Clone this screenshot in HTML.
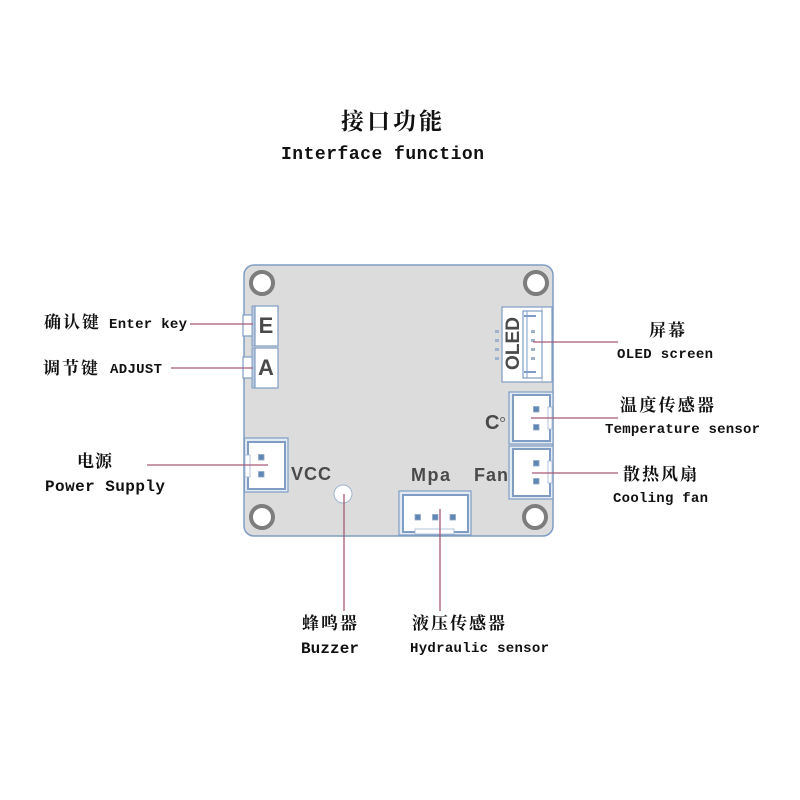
<!DOCTYPE html>
<html><head><meta charset="utf-8"><style>
html,body{margin:0;padding:0;background:#fff}
svg{display:block}
.m{font-family:"Liberation Mono",monospace;font-weight:bold;fill:#111}
.c{font-family:"Liberation Serif","Noto Serif CJK SC",serif;font-weight:bold;fill:#111}
.b{font-family:"Liberation Sans",sans-serif;font-weight:bold;fill:#4a4a4a}
.l{stroke:#a65a74;stroke-width:1.3;fill:none}
.p{fill:#fff;stroke:#7f9dc4;stroke-width:1.2}
.pin{fill:#5f86b5;stroke:#8fa9c9;stroke-width:.8}
.h{fill:#fff;stroke:#7d7d7d;stroke-width:4}
</style></head><body>
<svg width="800" height="800" viewBox="0 0 800 800" xmlns="http://www.w3.org/2000/svg">
<rect width="800" height="800" fill="#fff"/>
<rect x="244" y="265" width="309" height="271" rx="10" fill="#dcdcdc" stroke="#7f9dc4" stroke-width="1.5"/>
<circle class="h" cx="262" cy="283" r="11"/><circle class="h" cx="536" cy="283" r="11"/><circle class="h" cx="262" cy="517" r="11"/><circle class="h" cx="535" cy="517" r="11"/>

<!-- E / A buttons -->
<rect class="p" x="243" y="315" width="10" height="21"/><rect class="p" x="243" y="357" width="10" height="21"/>
<rect x="252" y="306" width="4" height="40" fill="#b9c9de" stroke="#7f9dc4"/><rect x="252" y="348" width="4" height="40" fill="#b9c9de" stroke="#7f9dc4"/>
<rect class="p" x="255" y="306" width="23" height="40"/><rect class="p" x="255" y="348" width="23" height="40"/>
<text class="b" x="266" y="333" font-size="22" text-anchor="middle">E</text>
<text class="b" x="266" y="375" font-size="22" text-anchor="middle">A</text>

<!-- OLED -->
<rect class="p" x="502" y="307" width="50" height="75"/>
<line x1="542" y1="307" x2="542" y2="382" stroke="#a9bcd5"/>
<rect x="523" y="311" width="19" height="67" fill="#fff" stroke="#7f9dc4" stroke-width="1.2"/>
<line x1="527" y1="311" x2="527" y2="378" stroke="#7f9dc4"/>
<path d="M524 316H536M524 372H536" stroke="#7f9dc4" stroke-width="2"/>
<g fill="#9fb2ca">
<rect x="531" y="330" width="4" height="3"/><rect x="531" y="339" width="4" height="3"/><rect x="531" y="348" width="4" height="3"/><rect x="531" y="357" width="4" height="3"/>
<rect x="495" y="330" width="4" height="3"/><rect x="495" y="339" width="4" height="3"/><rect x="495" y="348" width="4" height="3"/><rect x="495" y="357" width="4" height="3"/>
</g>
<text class="b" font-size="19" text-anchor="middle" transform="translate(519,343.500) rotate(-90)" textLength="53" lengthAdjust="spacingAndGlyphs">OLED</text>

<!-- VCC connector -->
<rect x="244.500" y="438" width="43.500" height="54" fill="#e4eaf2" stroke="#7f9dc4" stroke-width="1.2"/>
<rect x="248" y="442" width="37" height="47" fill="#fff" stroke="#7f9dc4" stroke-width="2"/>
<rect x="245" y="455" width="5" height="22" fill="#fff" stroke="#9fb4cf" stroke-width=".8"/>
<rect class="pin" x="258.500" y="454.500" width="5.500" height="5.500"/><rect class="pin" x="258.500" y="471.500" width="5.500" height="5.500"/>
<text class="b" x="291" y="480" font-size="18" textLength="40" lengthAdjust="spacing">VCC</text>

<!-- Temperature connector -->
<rect x="509" y="392" width="44" height="52" fill="#e4eaf2" stroke="#7f9dc4" stroke-width="1.2"/>
<rect x="513" y="395" width="37" height="46" fill="#fff" stroke="#7f9dc4" stroke-width="2"/>
<rect x="548" y="407" width="4" height="22" fill="#fff" stroke="#9fb4cf" stroke-width=".8"/>
<rect class="pin" x="533.500" y="406.500" width="5.500" height="5.500"/><rect class="pin" x="533.500" y="424.500" width="5.500" height="5.500"/>
<text class="b" x="485" y="429" font-size="20">C</text>
<text x="499" y="430" font-family="Liberation Sans,sans-serif" font-size="18" fill="#666">°</text>

<!-- Fan connector -->
<rect x="509" y="446" width="44" height="53" fill="#e4eaf2" stroke="#7f9dc4" stroke-width="1.2"/>
<rect x="513" y="449" width="37" height="47" fill="#fff" stroke="#7f9dc4" stroke-width="2"/>
<rect x="548" y="461" width="4" height="22" fill="#fff" stroke="#9fb4cf" stroke-width=".8"/>
<rect class="pin" x="533.500" y="460.500" width="5.500" height="5.500"/><rect class="pin" x="533.500" y="478.500" width="5.500" height="5.500"/>
<text class="b" x="474" y="481" font-size="18" textLength="34" lengthAdjust="spacing">Fan</text>

<!-- Mpa connector -->
<rect x="399" y="491" width="72" height="44" fill="#e4eaf2" stroke="#7f9dc4" stroke-width="1.2"/>
<rect x="403" y="495" width="65" height="37" fill="#fff" stroke="#7f9dc4" stroke-width="2"/>
<rect x="415" y="529" width="39" height="5" fill="#fff" stroke="#9fb4cf" stroke-width=".8"/>
<rect class="pin" x="415" y="514.500" width="5.500" height="5.500"/><rect class="pin" x="432.500" y="514.500" width="5.500" height="5.500"/><rect class="pin" x="450" y="514.500" width="5.500" height="5.500"/>
<text class="b" x="411" y="481" font-size="18" textLength="39" lengthAdjust="spacing">Mpa</text>

<!-- Buzzer -->
<circle cx="343" cy="494" r="9" fill="#fff" stroke="#9fb4cf"/>

<!-- Leader lines -->
<path class="l" d="M190 324H253M171 368H253M147 465H268M533 342H618M531 418H618M532 473H618M344 494V611M440 509V611"/>

<!-- Title -->
<text class="c" x="341" y="129" font-size="23" textLength="101" lengthAdjust="spacing">接口功能</text>
<text class="m" x="281" y="159" font-size="18" textLength="203" lengthAdjust="spacing">Interface function</text>

<!-- Labels -->
<text class="c" x="44" y="328" font-size="17" textLength="55" lengthAdjust="spacing">确认键</text>
<text class="m" x="109" y="328" font-size="14" textLength="78" lengthAdjust="spacing">Enter key</text>
<text class="c" x="43" y="374" font-size="17" textLength="55" lengthAdjust="spacing">调节键</text>
<text class="m" x="110" y="373" font-size="14" textLength="52" lengthAdjust="spacing">ADJUST</text>
<text class="c" x="77" y="467" font-size="17" textLength="35" lengthAdjust="spacing">电源</text>
<text class="m" x="45" y="491" font-size="16" textLength="120" lengthAdjust="spacing">Power Supply</text>
<text class="c" x="649" y="336" font-size="17" textLength="36" lengthAdjust="spacing">屏幕</text>
<text class="m" x="617" y="358" font-size="14" textLength="96" lengthAdjust="spacing">OLED screen</text>
<text class="c" x="620" y="411" font-size="17" textLength="94" lengthAdjust="spacing">温度传感器</text>
<text class="m" x="605" y="433" font-size="14" textLength="155" lengthAdjust="spacing">Temperature sensor</text>
<text class="c" x="623" y="480" font-size="17" textLength="74" lengthAdjust="spacing">散热风扇</text>
<text class="m" x="613" y="502" font-size="14" textLength="95" lengthAdjust="spacing">Cooling fan</text>
<text class="c" x="302" y="629" font-size="17" textLength="55" lengthAdjust="spacing">蜂鸣器</text>
<text class="m" x="301" y="653" font-size="16" textLength="58" lengthAdjust="spacing">Buzzer</text>
<text class="c" x="412" y="629" font-size="17" textLength="93" lengthAdjust="spacing">液压传感器</text>
<text class="m" x="410" y="652" font-size="14" textLength="139" lengthAdjust="spacing">Hydraulic sensor</text>
</svg>
</body></html>
